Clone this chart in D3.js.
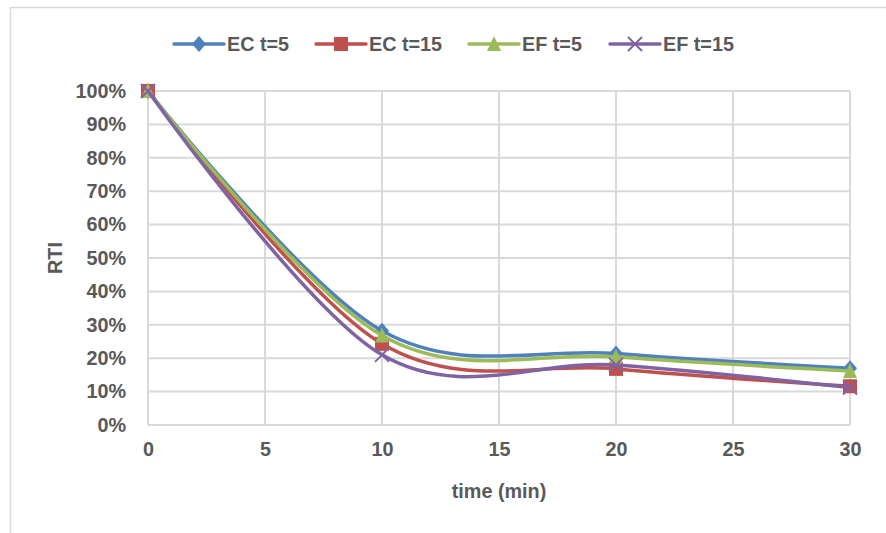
<!DOCTYPE html>
<html><head><meta charset="utf-8">
<script src="https://cdn.jsdelivr.net/npm/d3@7"></script>
<style>
html,body{margin:0;padding:0;background:#fff;}
svg{display:block;font-family:"Liberation Sans",Arial,sans-serif;font-weight:bold;}
</style></head>
<body>
<svg id="c" width="886" height="533"></svg>
<script>
const times = [0, 10, 20, 30];
const seriesNames = ["EC t=5", "EC t=15", "EF t=5", "EF t=15"];
const ecT5 = [100, 28.2, 21.4, 17.0];
const ecT15 = [100, 24.3, 16.8, 11.6];
const efT5 = [100, 26.8, 20.4, 16.2];
const efT15 = [100, 21.0, 18.0, 11.2];
const xTicks = [0, 5, 10, 15, 20, 25, 30];
const yTicks = [0, 10, 20, 30, 40, 50, 60, 70, 80, 90, 100];
const colors = ["#4F81BD", "#C0504D", "#9BBB59", "#8064A2"];
const markers = ["diamond", "square", "triangle", "x"];
const allSeries = [ecT5, ecT15, efT5, efT15];

const svg = d3.select("#c");
const textColor = "#595959", gridColor = "#d9d9d9";
const fs = 19.8;

// outer chart border
svg.append("rect").attr("x", 10.5).attr("y", 7.5).attr("width", 900).attr("height", 600)
  .attr("fill", "none").attr("stroke", gridColor).attr("stroke-width", 1.5);

const x = d3.scaleLinear().domain([0, 30]).range([148, 850]);
const y = d3.scaleLinear().domain([0, 100]).range([425, 91]);

// gridlines
const g = svg.append("g");
g.selectAll(".hg").data(yTicks).join("line")
  .attr("x1", x(0)).attr("x2", x(30)).attr("y1", d => y(d)).attr("y2", d => y(d))
  .attr("stroke", gridColor).attr("stroke-width", 2);
g.selectAll(".vg").data(xTicks).join("line")
  .attr("y1", y(0)).attr("y2", y(100)).attr("x1", d => x(d)).attr("x2", d => x(d))
  .attr("stroke", gridColor).attr("stroke-width", 2);

// axes via d3 axis
const xAxis = svg.append("g").attr("transform", `translate(0,${y(0)})`)
  .call(d3.axisBottom(x).tickValues(xTicks).tickSize(0).tickPadding(17));
const yAxis = svg.append("g").attr("transform", `translate(${x(0)},0)`)
  .call(d3.axisLeft(y).tickValues(yTicks).tickSize(0).tickPadding(22).tickFormat(d => d + "%"));
[xAxis, yAxis].forEach(a => {
  a.select(".domain").remove();
  a.selectAll("text").attr("fill", textColor).attr("font-size", fs)
    .attr("font-family", '"Liberation Sans",Arial,sans-serif').attr("font-weight", "bold");
});

// axis titles
svg.append("text").attr("x", x(15)).attr("y", 498).attr("text-anchor", "middle")
  .attr("fill", textColor).attr("font-size", fs).text("time (min)");
svg.append("text").attr("transform", `translate(62,${y(50)}) rotate(-90)`).attr("text-anchor", "middle")
  .attr("fill", textColor).attr("font-size", fs).text("RTI");

function drawMarker(sel, type, color, cx, cy) {
  const s = 7;
  if (type === "diamond") {
    sel.append("path").attr("d", `M${cx},${cy - s - 1}L${cx + s},${cy}L${cx},${cy + s + 1}L${cx - s},${cy}Z`).attr("fill", color);
  } else if (type === "square") {
    sel.append("rect").attr("x", cx - s).attr("y", cy - s).attr("width", 2 * s).attr("height", 2 * s).attr("fill", color);
  } else if (type === "triangle") {
    sel.append("path").attr("d", `M${cx},${cy - s - 1}L${cx + s},${cy + s}L${cx - s},${cy + s}Z`).attr("fill", color);
  } else {
    sel.append("path").attr("d", `M${cx - s},${cy - s}L${cx + s},${cy + s}M${cx - s},${cy + s}L${cx + s},${cy - s}`)
      .attr("stroke", color).attr("stroke-width", 2).attr("fill", "none");
  }
}

const line = d3.line().x(d => x(d[0])).y(d => y(d[1])).curve(d3.curveCardinal.tension(0));
allSeries.forEach((vals, i) => {
  const pts = times.map((t, j) => [t, vals[j]]);
  const sg = svg.append("g");
  sg.append("path").datum(pts).attr("d", line).attr("fill", "none")
    .attr("stroke", colors[i]).attr("stroke-width", 3.5).attr("stroke-linecap", "round");
  pts.forEach(p => drawMarker(sg, markers[i], colors[i], x(p[0]), y(p[1])));
});

// legend
const legX = [174, 316, 469, 610];
const legY = 44;
seriesNames.forEach((n, i) => {
  const lg = svg.append("g");
  lg.append("line").attr("x1", legX[i]).attr("x2", legX[i] + 50).attr("y1", legY).attr("y2", legY)
    .attr("stroke", colors[i]).attr("stroke-width", 3.5).attr("stroke-linecap", "round");
  drawMarker(lg, markers[i], colors[i], legX[i] + 25, legY);
  lg.append("text").attr("x", legX[i] + 53).attr("y", legY + 7).attr("fill", textColor)
    .attr("font-size", fs).text(n);
});
</script>
</body></html>
